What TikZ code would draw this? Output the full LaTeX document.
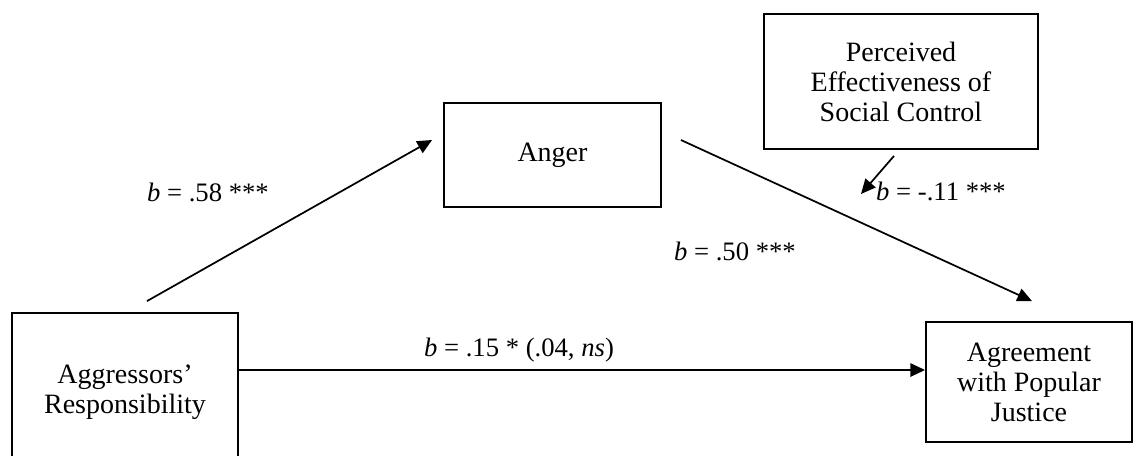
\documentclass[tikz,border=0pt]{standalone}
\usepackage{fontspec}
\setmainfont{Liberation Serif}
\usetikzlibrary{arrows.meta,calc,positioning}

\begin{document}
\begin{tikzpicture}[x=0.75pt, y=-0.75pt,
    varbox/.style={draw, line width=1.4pt, align=center, inner sep=0pt,
        font=\fontsize{21}{22.5}\selectfont},
    coef/.style={inner sep=0pt, font=\fontsize{20}{22}\selectfont},
    pathline/.style={line width=1.3pt, -{Triangle[length=11pt, width=10pt]}}]
    % Frame of the figure
    \clip (0,0) rectangle (1133,455);

    % Variables
    \node[varbox, minimum width=169.5pt, minimum height=118.5pt] (agg) at (125,392) {Aggressors’\\Responsibility};
    \node[varbox, minimum width=162.75pt, minimum height=78pt] (anger) at (552.5,155) {Anger};
    \node[varbox, minimum width=205.5pt, minimum height=101.25pt] (pec) at (901,81.5) {Perceived\\Effectiveness of\\Social Control};
    \node[varbox, minimum width=154.5pt, minimum height=90pt] (agree) at (1029,382) {Agreement\\with Popular\\Justice};

    % Paths
    \draw[pathline] ($(agg.north)+(22,-11)$) -- ($(anger.west)+(-11,-15)$);
    \draw[pathline] ($(anger.east)+(19,-15)$) -- ($(agree.north)+(3,-20)$);
    \draw[pathline] ($(agg.east)+(0,-22)$) -- ($(agree.west)+(0,-12)$);

    % Moderation
    \coordinate (modtip) at (861,194);
    \draw[pathline] ($(pec.south)+(-7,6)$) -- (modtip);

    % Coefficients
    \node[coef] (b58) at (208,192) {\textit{b} = .58 ***};
    \node[coef] (b50) at (735,251) {\textit{b} = .50 ***};
    \node[coef] (b11) at (941,191) {\textit{b} = -.11 ***};
    \node[coef] (b15) at (519,350) {\textit{b} = .15 * (.04, \textit{ns})};
\end{tikzpicture}
\end{document}
